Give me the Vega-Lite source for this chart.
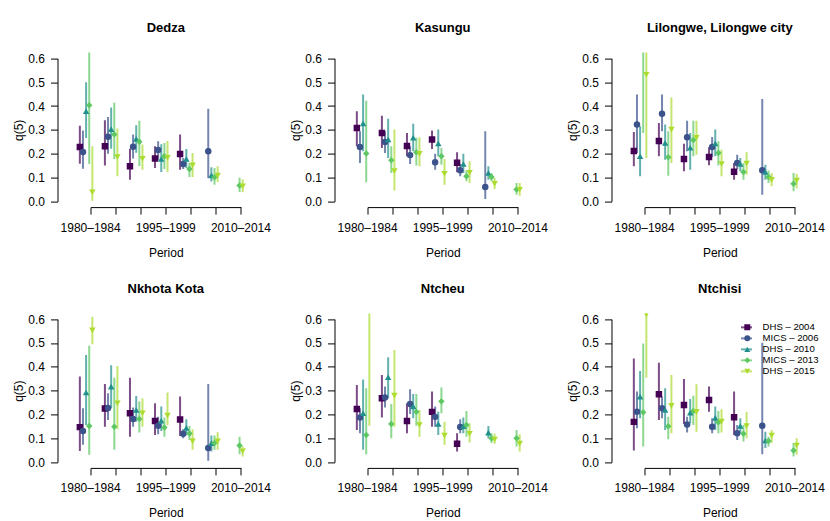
{
"$schema":"https://vega.github.io/schema/vega-lite/v6.json",
"background":"white",
"padding":{"left":11.5,"top":21.6,"right":5,"bottom":0},
"datasets":{"q":[
{"district":"Dedza","period":"1980–1984","survey":"DHS – 2004","q5":0.228,"lo":0.158,"hi":0.317},
{"district":"Dedza","period":"1980–1984","survey":"MICS – 2006","q5":0.207,"lo":0.137,"hi":0.297},
{"district":"Dedza","period":"1980–1984","survey":"DHS – 2010","q5":0.378,"lo":0.266,"hi":0.5},
{"district":"Dedza","period":"1980–1984","survey":"MICS – 2013","q5":0.403,"lo":0.157,"hi":0.7},
{"district":"Dedza","period":"1980–1984","survey":"DHS – 2015","q5":0.038,"lo":0.003,"hi":0.231},
{"district":"Dedza","period":"1985–1989","survey":"DHS – 2004","q5":0.231,"lo":0.15,"hi":0.34},
{"district":"Dedza","period":"1985–1989","survey":"MICS – 2006","q5":0.271,"lo":0.2,"hi":0.354},
{"district":"Dedza","period":"1985–1989","survey":"DHS – 2010","q5":0.303,"lo":0.221,"hi":0.394},
{"district":"Dedza","period":"1985–1989","survey":"MICS – 2013","q5":0.281,"lo":0.178,"hi":0.414},
{"district":"Dedza","period":"1985–1989","survey":"DHS – 2015","q5":0.186,"lo":0.105,"hi":0.306},
{"district":"Dedza","period":"1990–1994","survey":"DHS – 2004","q5":0.147,"lo":0.091,"hi":0.221},
{"district":"Dedza","period":"1990–1994","survey":"MICS – 2006","q5":0.229,"lo":0.18,"hi":0.281},
{"district":"Dedza","period":"1990–1994","survey":"DHS – 2010","q5":0.262,"lo":0.204,"hi":0.319},
{"district":"Dedza","period":"1990–1994","survey":"MICS – 2013","q5":0.25,"lo":0.148,"hi":0.338},
{"district":"Dedza","period":"1990–1994","survey":"DHS – 2015","q5":0.179,"lo":0.133,"hi":0.239},
{"district":"Dedza","period":"1995–1999","survey":"DHS – 2004","q5":0.18,"lo":0.14,"hi":0.231},
{"district":"Dedza","period":"1995–1999","survey":"MICS – 2006","q5":0.215,"lo":0.175,"hi":0.252},
{"district":"Dedza","period":"1995–1999","survey":"DHS – 2010","q5":0.178,"lo":0.123,"hi":0.24},
{"district":"Dedza","period":"1995–1999","survey":"MICS – 2013","q5":0.189,"lo":0.136,"hi":0.245},
{"district":"Dedza","period":"1995–1999","survey":"DHS – 2015","q5":0.183,"lo":0.123,"hi":0.253},
{"district":"Dedza","period":"2000–2004","survey":"DHS – 2004","q5":0.199,"lo":0.133,"hi":0.281},
{"district":"Dedza","period":"2000–2004","survey":"MICS – 2006","q5":0.157,"lo":0.136,"hi":0.182},
{"district":"Dedza","period":"2000–2004","survey":"DHS – 2010","q5":0.178,"lo":0.14,"hi":0.22},
{"district":"Dedza","period":"2000–2004","survey":"MICS – 2013","q5":0.136,"lo":0.102,"hi":0.161},
{"district":"Dedza","period":"2000–2004","survey":"DHS – 2015","q5":0.151,"lo":0.102,"hi":0.203},
{"district":"Dedza","period":"2005–2009","survey":"MICS – 2006","q5":0.21,"lo":0.098,"hi":0.389},
{"district":"Dedza","period":"2005–2009","survey":"DHS – 2010","q5":0.109,"lo":0.083,"hi":0.143},
{"district":"Dedza","period":"2005–2009","survey":"MICS – 2013","q5":0.101,"lo":0.07,"hi":0.14},
{"district":"Dedza","period":"2005–2009","survey":"DHS – 2015","q5":0.108,"lo":0.081,"hi":0.147},
{"district":"Dedza","period":"2010–2014","survey":"MICS – 2013","q5":0.067,"lo":0.039,"hi":0.099},
{"district":"Dedza","period":"2010–2014","survey":"DHS – 2015","q5":0.063,"lo":0.038,"hi":0.092},
{"district":"Kasungu","period":"1980–1984","survey":"DHS – 2004","q5":0.308,"lo":0.231,"hi":0.378},
{"district":"Kasungu","period":"1980–1984","survey":"MICS – 2006","q5":0.228,"lo":0.161,"hi":0.294},
{"district":"Kasungu","period":"1980–1984","survey":"DHS – 2010","q5":0.327,"lo":0.21,"hi":0.448},
{"district":"Kasungu","period":"1980–1984","survey":"MICS – 2013","q5":0.201,"lo":0.08,"hi":0.422},
{"district":"Kasungu","period":"1985–1989","survey":"DHS – 2004","q5":0.287,"lo":0.224,"hi":0.359},
{"district":"Kasungu","period":"1985–1989","survey":"MICS – 2006","q5":0.249,"lo":0.203,"hi":0.294},
{"district":"Kasungu","period":"1985–1989","survey":"DHS – 2010","q5":0.26,"lo":0.182,"hi":0.347},
{"district":"Kasungu","period":"1985–1989","survey":"MICS – 2013","q5":0.173,"lo":0.119,"hi":0.231},
{"district":"Kasungu","period":"1985–1989","survey":"DHS – 2015","q5":0.127,"lo":0.046,"hi":0.301},
{"district":"Kasungu","period":"1990–1994","survey":"DHS – 2004","q5":0.232,"lo":0.189,"hi":0.287},
{"district":"Kasungu","period":"1990–1994","survey":"MICS – 2006","q5":0.194,"lo":0.157,"hi":0.231},
{"district":"Kasungu","period":"1990–1994","survey":"DHS – 2010","q5":0.267,"lo":0.21,"hi":0.326},
{"district":"Kasungu","period":"1990–1994","survey":"MICS – 2013","q5":0.206,"lo":0.15,"hi":0.267},
{"district":"Kasungu","period":"1990–1994","survey":"DHS – 2015","q5":0.199,"lo":0.147,"hi":0.269},
{"district":"Kasungu","period":"1995–1999","survey":"DHS – 2004","q5":0.26,"lo":0.22,"hi":0.297},
{"district":"Kasungu","period":"1995–1999","survey":"MICS – 2006","q5":0.164,"lo":0.133,"hi":0.2},
{"district":"Kasungu","period":"1995–1999","survey":"DHS – 2010","q5":0.243,"lo":0.189,"hi":0.301},
{"district":"Kasungu","period":"1995–1999","survey":"MICS – 2013","q5":0.189,"lo":0.154,"hi":0.224},
{"district":"Kasungu","period":"1995–1999","survey":"DHS – 2015","q5":0.116,"lo":0.07,"hi":0.178},
{"district":"Kasungu","period":"2000–2004","survey":"DHS – 2004","q5":0.162,"lo":0.122,"hi":0.206},
{"district":"Kasungu","period":"2000–2004","survey":"MICS – 2006","q5":0.131,"lo":0.105,"hi":0.157},
{"district":"Kasungu","period":"2000–2004","survey":"DHS – 2010","q5":0.157,"lo":0.119,"hi":0.2},
{"district":"Kasungu","period":"2000–2004","survey":"MICS – 2013","q5":0.105,"lo":0.084,"hi":0.13},
{"district":"Kasungu","period":"2000–2004","survey":"DHS – 2015","q5":0.12,"lo":0.077,"hi":0.168},
{"district":"Kasungu","period":"2005–2009","survey":"MICS – 2006","q5":0.06,"lo":0.01,"hi":0.294},
{"district":"Kasungu","period":"2005–2009","survey":"DHS – 2010","q5":0.119,"lo":0.091,"hi":0.147},
{"district":"Kasungu","period":"2005–2009","survey":"MICS – 2013","q5":0.102,"lo":0.084,"hi":0.119},
{"district":"Kasungu","period":"2005–2009","survey":"DHS – 2015","q5":0.074,"lo":0.052,"hi":0.098},
{"district":"Kasungu","period":"2010–2014","survey":"MICS – 2013","q5":0.05,"lo":0.028,"hi":0.077},
{"district":"Kasungu","period":"2010–2014","survey":"DHS – 2015","q5":0.049,"lo":0.024,"hi":0.077},
{"district":"Lilongwe, Lilongwe city","period":"1980–1984","survey":"DHS – 2004","q5":0.211,"lo":0.147,"hi":0.291},
{"district":"Lilongwe, Lilongwe city","period":"1980–1984","survey":"MICS – 2006","q5":0.322,"lo":0.203,"hi":0.448},
{"district":"Lilongwe, Lilongwe city","period":"1980–1984","survey":"DHS – 2010","q5":0.189,"lo":0.105,"hi":0.315},
{"district":"Lilongwe, Lilongwe city","period":"1980–1984","survey":"MICS – 2013","q5":0.66,"lo":0.287,"hi":0.9},
{"district":"Lilongwe, Lilongwe city","period":"1980–1984","survey":"DHS – 2015","q5":0.531,"lo":0.182,"hi":0.75},
{"district":"Lilongwe, Lilongwe city","period":"1985–1989","survey":"DHS – 2004","q5":0.253,"lo":0.189,"hi":0.329},
{"district":"Lilongwe, Lilongwe city","period":"1985–1989","survey":"MICS – 2006","q5":0.368,"lo":0.294,"hi":0.448},
{"district":"Lilongwe, Lilongwe city","period":"1985–1989","survey":"DHS – 2010","q5":0.245,"lo":0.175,"hi":0.322},
{"district":"Lilongwe, Lilongwe city","period":"1985–1989","survey":"MICS – 2013","q5":0.185,"lo":0.108,"hi":0.294},
{"district":"Lilongwe, Lilongwe city","period":"1985–1989","survey":"DHS – 2015","q5":0.301,"lo":0.161,"hi":0.436},
{"district":"Lilongwe, Lilongwe city","period":"1990–1994","survey":"DHS – 2004","q5":0.178,"lo":0.126,"hi":0.242},
{"district":"Lilongwe, Lilongwe city","period":"1990–1994","survey":"MICS – 2006","q5":0.269,"lo":0.21,"hi":0.338},
{"district":"Lilongwe, Lilongwe city","period":"1990–1994","survey":"DHS – 2010","q5":0.225,"lo":0.133,"hi":0.287},
{"district":"Lilongwe, Lilongwe city","period":"1990–1994","survey":"MICS – 2013","q5":0.257,"lo":0.189,"hi":0.338},
{"district":"Lilongwe, Lilongwe city","period":"1990–1994","survey":"DHS – 2015","q5":0.267,"lo":0.196,"hi":0.338},
{"district":"Lilongwe, Lilongwe city","period":"1995–1999","survey":"DHS – 2004","q5":0.186,"lo":0.151,"hi":0.227},
{"district":"Lilongwe, Lilongwe city","period":"1995–1999","survey":"MICS – 2006","q5":0.228,"lo":0.186,"hi":0.27},
{"district":"Lilongwe, Lilongwe city","period":"1995–1999","survey":"DHS – 2010","q5":0.243,"lo":0.189,"hi":0.301},
{"district":"Lilongwe, Lilongwe city","period":"1995–1999","survey":"MICS – 2013","q5":0.203,"lo":0.15,"hi":0.252},
{"district":"Lilongwe, Lilongwe city","period":"1995–1999","survey":"DHS – 2015","q5":0.157,"lo":0.105,"hi":0.217},
{"district":"Lilongwe, Lilongwe city","period":"2000–2004","survey":"DHS – 2004","q5":0.124,"lo":0.091,"hi":0.161},
{"district":"Lilongwe, Lilongwe city","period":"2000–2004","survey":"MICS – 2006","q5":0.161,"lo":0.136,"hi":0.196},
{"district":"Lilongwe, Lilongwe city","period":"2000–2004","survey":"DHS – 2010","q5":0.157,"lo":0.126,"hi":0.182},
{"district":"Lilongwe, Lilongwe city","period":"2000–2004","survey":"MICS – 2013","q5":0.123,"lo":0.091,"hi":0.161},
{"district":"Lilongwe, Lilongwe city","period":"2000–2004","survey":"DHS – 2015","q5":0.159,"lo":0.112,"hi":0.206},
{"district":"Lilongwe, Lilongwe city","period":"2005–2009","survey":"MICS – 2006","q5":0.131,"lo":0.028,"hi":0.429},
{"district":"Lilongwe, Lilongwe city","period":"2005–2009","survey":"DHS – 2010","q5":0.123,"lo":0.091,"hi":0.154},
{"district":"Lilongwe, Lilongwe city","period":"2005–2009","survey":"MICS – 2013","q5":0.102,"lo":0.077,"hi":0.13},
{"district":"Lilongwe, Lilongwe city","period":"2005–2009","survey":"DHS – 2015","q5":0.09,"lo":0.063,"hi":0.119},
{"district":"Lilongwe, Lilongwe city","period":"2010–2014","survey":"MICS – 2013","q5":0.074,"lo":0.042,"hi":0.119},
{"district":"Lilongwe, Lilongwe city","period":"2010–2014","survey":"DHS – 2015","q5":0.087,"lo":0.055,"hi":0.115},
{"district":"Nkhota Kota","period":"1980–1984","survey":"DHS – 2004","q5":0.147,"lo":0.047,"hi":0.359},
{"district":"Nkhota Kota","period":"1980–1984","survey":"MICS – 2006","q5":0.131,"lo":0.073,"hi":0.226},
{"district":"Nkhota Kota","period":"1980–1984","survey":"DHS – 2010","q5":0.292,"lo":0.156,"hi":0.449},
{"district":"Nkhota Kota","period":"1980–1984","survey":"MICS – 2013","q5":0.152,"lo":0.031,"hi":0.488},
{"district":"Nkhota Kota","period":"1980–1984","survey":"DHS – 2015","q5":0.553,"lo":0.495,"hi":0.61},
{"district":"Nkhota Kota","period":"1985–1989","survey":"DHS – 2004","q5":0.225,"lo":0.149,"hi":0.328},
{"district":"Nkhota Kota","period":"1985–1989","survey":"MICS – 2006","q5":0.227,"lo":0.177,"hi":0.289},
{"district":"Nkhota Kota","period":"1985–1989","survey":"DHS – 2010","q5":0.317,"lo":0.226,"hi":0.407},
{"district":"Nkhota Kota","period":"1985–1989","survey":"MICS – 2013","q5":0.149,"lo":0.052,"hi":0.354},
{"district":"Nkhota Kota","period":"1985–1989","survey":"DHS – 2015","q5":0.247,"lo":0.138,"hi":0.403},
{"district":"Nkhota Kota","period":"1990–1994","survey":"DHS – 2004","q5":0.205,"lo":0.107,"hi":0.354},
{"district":"Nkhota Kota","period":"1990–1994","survey":"MICS – 2006","q5":0.181,"lo":0.149,"hi":0.229},
{"district":"Nkhota Kota","period":"1990–1994","survey":"DHS – 2010","q5":0.219,"lo":0.17,"hi":0.278},
{"district":"Nkhota Kota","period":"1990–1994","survey":"MICS – 2013","q5":0.181,"lo":0.124,"hi":0.254},
{"district":"Nkhota Kota","period":"1990–1994","survey":"DHS – 2015","q5":0.205,"lo":0.149,"hi":0.268},
{"district":"Nkhota Kota","period":"1995–1999","survey":"DHS – 2004","q5":0.173,"lo":0.114,"hi":0.247},
{"district":"Nkhota Kota","period":"1995–1999","survey":"MICS – 2006","q5":0.153,"lo":0.117,"hi":0.191},
{"district":"Nkhota Kota","period":"1995–1999","survey":"DHS – 2010","q5":0.174,"lo":0.131,"hi":0.233},
{"district":"Nkhota Kota","period":"1995–1999","survey":"MICS – 2013","q5":0.145,"lo":0.107,"hi":0.187},
{"district":"Nkhota Kota","period":"1995–1999","survey":"DHS – 2015","q5":0.195,"lo":0.156,"hi":0.292},
{"district":"Nkhota Kota","period":"2000–2004","survey":"DHS – 2004","q5":0.179,"lo":0.11,"hi":0.275},
{"district":"Nkhota Kota","period":"2000–2004","survey":"MICS – 2006","q5":0.119,"lo":0.1,"hi":0.138},
{"district":"Nkhota Kota","period":"2000–2004","survey":"DHS – 2010","q5":0.144,"lo":0.114,"hi":0.18},
{"district":"Nkhota Kota","period":"2000–2004","survey":"MICS – 2013","q5":0.12,"lo":0.093,"hi":0.152},
{"district":"Nkhota Kota","period":"2000–2004","survey":"DHS – 2015","q5":0.088,"lo":0.052,"hi":0.138},
{"district":"Nkhota Kota","period":"2005–2009","survey":"MICS – 2006","q5":0.059,"lo":0.006,"hi":0.328},
{"district":"Nkhota Kota","period":"2005–2009","survey":"DHS – 2010","q5":0.08,"lo":0.045,"hi":0.112},
{"district":"Nkhota Kota","period":"2005–2009","survey":"MICS – 2013","q5":0.08,"lo":0.052,"hi":0.112},
{"district":"Nkhota Kota","period":"2005–2009","survey":"DHS – 2015","q5":0.087,"lo":0.052,"hi":0.126},
{"district":"Nkhota Kota","period":"2010–2014","survey":"MICS – 2013","q5":0.07,"lo":0.033,"hi":0.107},
{"district":"Nkhota Kota","period":"2010–2014","survey":"DHS – 2015","q5":0.046,"lo":0.024,"hi":0.066},
{"district":"Ntcheu","period":"1980–1984","survey":"DHS – 2004","q5":0.223,"lo":0.135,"hi":0.324},
{"district":"Ntcheu","period":"1980–1984","survey":"MICS – 2006","q5":0.187,"lo":0.121,"hi":0.226},
{"district":"Ntcheu","period":"1980–1984","survey":"DHS – 2010","q5":0.205,"lo":0.052,"hi":0.347},
{"district":"Ntcheu","period":"1980–1984","survey":"MICS – 2013","q5":0.114,"lo":0.033,"hi":0.31},
{"district":"Ntcheu","period":"1980–1984","survey":"DHS – 2015","q5":0.66,"lo":0.153,"hi":0.9},
{"district":"Ntcheu","period":"1985–1989","survey":"DHS – 2004","q5":0.268,"lo":0.187,"hi":0.366},
{"district":"Ntcheu","period":"1985–1989","survey":"MICS – 2006","q5":0.271,"lo":0.229,"hi":0.317},
{"district":"Ntcheu","period":"1985–1989","survey":"DHS – 2010","q5":0.356,"lo":0.268,"hi":0.44},
{"district":"Ntcheu","period":"1985–1989","survey":"MICS – 2013","q5":0.16,"lo":0.1,"hi":0.244},
{"district":"Ntcheu","period":"1985–1989","survey":"DHS – 2015","q5":0.279,"lo":0.149,"hi":0.47},
{"district":"Ntcheu","period":"1990–1994","survey":"DHS – 2004","q5":0.173,"lo":0.121,"hi":0.247},
{"district":"Ntcheu","period":"1990–1994","survey":"MICS – 2006","q5":0.244,"lo":0.202,"hi":0.306},
{"district":"Ntcheu","period":"1990–1994","survey":"DHS – 2010","q5":0.234,"lo":0.184,"hi":0.286},
{"district":"Ntcheu","period":"1990–1994","survey":"MICS – 2013","q5":0.211,"lo":0.153,"hi":0.286},
{"district":"Ntcheu","period":"1990–1994","survey":"DHS – 2015","q5":0.156,"lo":0.107,"hi":0.219},
{"district":"Ntcheu","period":"1995–1999","survey":"DHS – 2004","q5":0.211,"lo":0.149,"hi":0.296},
{"district":"Ntcheu","period":"1995–1999","survey":"MICS – 2006","q5":0.19,"lo":0.149,"hi":0.233},
{"district":"Ntcheu","period":"1995–1999","survey":"DHS – 2010","q5":0.16,"lo":0.114,"hi":0.212},
{"district":"Ntcheu","period":"1995–1999","survey":"MICS – 2013","q5":0.255,"lo":0.205,"hi":0.313},
{"district":"Ntcheu","period":"1995–1999","survey":"DHS – 2015","q5":0.112,"lo":0.073,"hi":0.17},
{"district":"Ntcheu","period":"2000–2004","survey":"DHS – 2004","q5":0.077,"lo":0.045,"hi":0.121},
{"district":"Ntcheu","period":"2000–2004","survey":"MICS – 2006","q5":0.148,"lo":0.121,"hi":0.18},
{"district":"Ntcheu","period":"2000–2004","survey":"DHS – 2010","q5":0.151,"lo":0.121,"hi":0.187},
{"district":"Ntcheu","period":"2000–2004","survey":"MICS – 2013","q5":0.156,"lo":0.107,"hi":0.215},
{"district":"Ntcheu","period":"2000–2004","survey":"DHS – 2015","q5":0.119,"lo":0.082,"hi":0.163},
{"district":"Ntcheu","period":"2005–2009","survey":"DHS – 2010","q5":0.124,"lo":0.1,"hi":0.152},
{"district":"Ntcheu","period":"2005–2009","survey":"MICS – 2013","q5":0.1,"lo":0.08,"hi":0.121},
{"district":"Ntcheu","period":"2005–2009","survey":"DHS – 2015","q5":0.095,"lo":0.077,"hi":0.119},
{"district":"Ntcheu","period":"2010–2014","survey":"MICS – 2013","q5":0.1,"lo":0.066,"hi":0.135},
{"district":"Ntcheu","period":"2010–2014","survey":"DHS – 2015","q5":0.078,"lo":0.045,"hi":0.117},
{"district":"Ntchisi","period":"1980–1984","survey":"DHS – 2004","q5":0.169,"lo":0.049,"hi":0.435},
{"district":"Ntchisi","period":"1980–1984","survey":"MICS – 2006","q5":0.212,"lo":0.142,"hi":0.296},
{"district":"Ntchisi","period":"1980–1984","survey":"DHS – 2010","q5":0.275,"lo":0.184,"hi":0.382},
{"district":"Ntchisi","period":"1980–1984","survey":"MICS – 2013","q5":0.209,"lo":0.066,"hi":0.498},
{"district":"Ntchisi","period":"1980–1984","survey":"DHS – 2015","q5":0.62,"lo":0.354,"hi":0.7},
{"district":"Ntchisi","period":"1985–1989","survey":"DHS – 2004","q5":0.285,"lo":0.177,"hi":0.417},
{"district":"Ntchisi","period":"1985–1989","survey":"MICS – 2006","q5":0.226,"lo":0.184,"hi":0.275},
{"district":"Ntchisi","period":"1985–1989","survey":"DHS – 2010","q5":0.219,"lo":0.135,"hi":0.31},
{"district":"Ntchisi","period":"1985–1989","survey":"MICS – 2013","q5":0.151,"lo":0.096,"hi":0.191},
{"district":"Ntchisi","period":"1985–1989","survey":"DHS – 2015","q5":0.236,"lo":0.121,"hi":0.366},
{"district":"Ntchisi","period":"1990–1994","survey":"DHS – 2004","q5":0.24,"lo":0.16,"hi":0.349},
{"district":"Ntchisi","period":"1990–1994","survey":"MICS – 2006","q5":0.158,"lo":0.124,"hi":0.191},
{"district":"Ntchisi","period":"1990–1994","survey":"DHS – 2010","q5":0.208,"lo":0.163,"hi":0.265},
{"district":"Ntchisi","period":"1990–1994","survey":"MICS – 2013","q5":0.215,"lo":0.156,"hi":0.279},
{"district":"Ntchisi","period":"1990–1994","survey":"DHS – 2015","q5":0.211,"lo":0.128,"hi":0.327},
{"district":"Ntchisi","period":"1995–1999","survey":"DHS – 2004","q5":0.261,"lo":0.212,"hi":0.317},
{"district":"Ntchisi","period":"1995–1999","survey":"MICS – 2006","q5":0.149,"lo":0.121,"hi":0.184},
{"district":"Ntchisi","period":"1995–1999","survey":"DHS – 2010","q5":0.186,"lo":0.135,"hi":0.233},
{"district":"Ntchisi","period":"1995–1999","survey":"MICS – 2013","q5":0.167,"lo":0.121,"hi":0.215},
{"district":"Ntchisi","period":"1995–1999","survey":"DHS – 2015","q5":0.17,"lo":0.124,"hi":0.222},
{"district":"Ntchisi","period":"2000–2004","survey":"DHS – 2004","q5":0.188,"lo":0.114,"hi":0.296},
{"district":"Ntchisi","period":"2000–2004","survey":"MICS – 2006","q5":0.121,"lo":0.093,"hi":0.156},
{"district":"Ntchisi","period":"2000–2004","survey":"DHS – 2010","q5":0.152,"lo":0.121,"hi":0.184},
{"district":"Ntchisi","period":"2000–2004","survey":"MICS – 2013","q5":0.119,"lo":0.087,"hi":0.156},
{"district":"Ntchisi","period":"2000–2004","survey":"DHS – 2015","q5":0.152,"lo":0.1,"hi":0.212},
{"district":"Ntchisi","period":"2005–2009","survey":"MICS – 2006","q5":0.153,"lo":0.033,"hi":0.501},
{"district":"Ntchisi","period":"2005–2009","survey":"DHS – 2010","q5":0.091,"lo":0.059,"hi":0.128},
{"district":"Ntchisi","period":"2005–2009","survey":"MICS – 2013","q5":0.089,"lo":0.066,"hi":0.107},
{"district":"Ntchisi","period":"2005–2009","survey":"DHS – 2015","q5":0.112,"lo":0.08,"hi":0.135},
{"district":"Ntchisi","period":"2010–2014","survey":"MICS – 2013","q5":0.049,"lo":0.024,"hi":0.08},
{"district":"Ntchisi","period":"2010–2014","survey":"DHS – 2015","q5":0.07,"lo":0.031,"hi":0.1}
]},
"data":{"name":"q"},
"columns":3,
"spacing":{"row":105.8,"column":60},
"bounds":"flush",
"resolve":{"scale":{"stroke":"independent"},"legend":{"stroke":"independent","fill":"independent","shape":"independent"}},
"concat":[
{"title":{"text":"Dedza"},"width":216.5,"height":154.5,"transform":[{"filter":{"field":"district","equal":"Dedza"}}],
"encoding":{"x":{"field":"period","type":"ordinal","scale":{"type":"band","domain":["1980–1984","1985–1989","1990–1994","1995–1999","2000–2004","2005–2009","2010–2014"],"paddingInner":0,"paddingOuter":0.82},"axis":{"title":"Period","labelAngle":0,"labelOverlap":false,"labelExpr":"indexof(['1980–1984','1995–1999','2010–2014'], datum.value) >= 0 ? datum.value : ''","labelPadding":8,"titlePadding":14,"domainDash":[0,33.08,150.35,500]}},
"xOffset":{"field":"survey","type":"nominal","scale":{"type":"point","domain":["DHS – 2004","MICS – 2006","DHS – 2010","MICS – 2013","DHS – 2015"],"padding":0,"range":[1.8,14.3]}}},
"layer":[
{"mark":{"type":"rule","strokeWidth":2,"opacity":0.7,"clip":true},"encoding":{"y":{"field":"lo","type":"quantitative","scale":{"domain":[-0.024,0.624],"nice":false,"zero":false},"axis":{"title":"q(5)","values":[0,0.1,0.2,0.3,0.4,0.5,0.6],"format":".1f","labelPadding":6,"titlePadding":2.5,"domainDash":[0,5.72,143.06,500]}},"y2":{"field":"hi"},"stroke":{"field":"survey","type":"nominal","sort":["DHS – 2004","MICS – 2006","DHS – 2010","MICS – 2013","DHS – 2015"],"scale":{"range":["#440154","#3B528B","#21908C","#5DC863","#ADDC30"]},"legend":null}}},
{"mark":{"type":"point","filled":true,"size":42,"opacity":1,"strokeWidth":0,"clip":true},"encoding":{"y":{"field":"q5","type":"quantitative","scale":{"domain":[-0.024,0.624],"nice":false,"zero":false},"axis":{"title":"q(5)","values":[0,0.1,0.2,0.3,0.4,0.5,0.6],"format":".1f","labelPadding":6,"titlePadding":2.5,"domainDash":[0,5.72,143.06,500]}},"fill":{"field":"survey","type":"nominal","scale":{"domain":["DHS – 2004","MICS – 2006","DHS – 2010","MICS – 2013","DHS – 2015"],"range":["#440154","#3B528B","#21908C","#5DC863","#ADDC30"]},"legend":null},"shape":{"field":"survey","type":"nominal","scale":{"domain":["DHS – 2004","MICS – 2006","DHS – 2010","MICS – 2013","DHS – 2015"],"range":["square","circle","triangle-up","diamond","triangle-down"]},"legend":null}}}
]},
{"title":{"text":"Kasungu"},"width":216.5,"height":154.5,"transform":[{"filter":{"field":"district","equal":"Kasungu"}}],
"encoding":{"x":{"field":"period","type":"ordinal","scale":{"type":"band","domain":["1980–1984","1985–1989","1990–1994","1995–1999","2000–2004","2005–2009","2010–2014"],"paddingInner":0,"paddingOuter":0.82},"axis":{"title":"Period","labelAngle":0,"labelOverlap":false,"labelExpr":"indexof(['1980–1984','1995–1999','2010–2014'], datum.value) >= 0 ? datum.value : ''","labelPadding":8,"titlePadding":14,"domainDash":[0,33.08,150.35,500]}},
"xOffset":{"field":"survey","type":"nominal","scale":{"type":"point","domain":["DHS – 2004","MICS – 2006","DHS – 2010","MICS – 2013","DHS – 2015"],"padding":0,"range":[1.8,14.3]}}},
"layer":[
{"mark":{"type":"rule","strokeWidth":2,"opacity":0.7,"clip":true},"encoding":{"y":{"field":"lo","type":"quantitative","scale":{"domain":[-0.024,0.624],"nice":false,"zero":false},"axis":{"title":"q(5)","values":[0,0.1,0.2,0.3,0.4,0.5,0.6],"format":".1f","labelPadding":6,"titlePadding":2.5,"domainDash":[0,5.72,143.06,500]}},"y2":{"field":"hi"},"stroke":{"field":"survey","type":"nominal","sort":["DHS – 2004","MICS – 2006","DHS – 2010","MICS – 2013","DHS – 2015"],"scale":{"range":["#440154","#3B528B","#21908C","#5DC863","#ADDC30"]},"legend":null}}},
{"mark":{"type":"point","filled":true,"size":42,"opacity":1,"strokeWidth":0,"clip":true},"encoding":{"y":{"field":"q5","type":"quantitative","scale":{"domain":[-0.024,0.624],"nice":false,"zero":false},"axis":{"title":"q(5)","values":[0,0.1,0.2,0.3,0.4,0.5,0.6],"format":".1f","labelPadding":6,"titlePadding":2.5,"domainDash":[0,5.72,143.06,500]}},"fill":{"field":"survey","type":"nominal","scale":{"domain":["DHS – 2004","MICS – 2006","DHS – 2010","MICS – 2013","DHS – 2015"],"range":["#440154","#3B528B","#21908C","#5DC863","#ADDC30"]},"legend":null},"shape":{"field":"survey","type":"nominal","scale":{"domain":["DHS – 2004","MICS – 2006","DHS – 2010","MICS – 2013","DHS – 2015"],"range":["square","circle","triangle-up","diamond","triangle-down"]},"legend":null}}}
]},
{"title":{"text":"Lilongwe, Lilongwe city"},"width":216.5,"height":154.5,"transform":[{"filter":{"field":"district","equal":"Lilongwe, Lilongwe city"}}],
"encoding":{"x":{"field":"period","type":"ordinal","scale":{"type":"band","domain":["1980–1984","1985–1989","1990–1994","1995–1999","2000–2004","2005–2009","2010–2014"],"paddingInner":0,"paddingOuter":0.82},"axis":{"title":"Period","labelAngle":0,"labelOverlap":false,"labelExpr":"indexof(['1980–1984','1995–1999','2010–2014'], datum.value) >= 0 ? datum.value : ''","labelPadding":8,"titlePadding":14,"domainDash":[0,33.08,150.35,500]}},
"xOffset":{"field":"survey","type":"nominal","scale":{"type":"point","domain":["DHS – 2004","MICS – 2006","DHS – 2010","MICS – 2013","DHS – 2015"],"padding":0,"range":[1.8,14.3]}}},
"layer":[
{"mark":{"type":"rule","strokeWidth":2,"opacity":0.7,"clip":true},"encoding":{"y":{"field":"lo","type":"quantitative","scale":{"domain":[-0.024,0.624],"nice":false,"zero":false},"axis":{"title":"q(5)","values":[0,0.1,0.2,0.3,0.4,0.5,0.6],"format":".1f","labelPadding":6,"titlePadding":2.5,"domainDash":[0,5.72,143.06,500]}},"y2":{"field":"hi"},"stroke":{"field":"survey","type":"nominal","sort":["DHS – 2004","MICS – 2006","DHS – 2010","MICS – 2013","DHS – 2015"],"scale":{"range":["#440154","#3B528B","#21908C","#5DC863","#ADDC30"]},"legend":null}}},
{"mark":{"type":"point","filled":true,"size":42,"opacity":1,"strokeWidth":0,"clip":true},"encoding":{"y":{"field":"q5","type":"quantitative","scale":{"domain":[-0.024,0.624],"nice":false,"zero":false},"axis":{"title":"q(5)","values":[0,0.1,0.2,0.3,0.4,0.5,0.6],"format":".1f","labelPadding":6,"titlePadding":2.5,"domainDash":[0,5.72,143.06,500]}},"fill":{"field":"survey","type":"nominal","scale":{"domain":["DHS – 2004","MICS – 2006","DHS – 2010","MICS – 2013","DHS – 2015"],"range":["#440154","#3B528B","#21908C","#5DC863","#ADDC30"]},"legend":null},"shape":{"field":"survey","type":"nominal","scale":{"domain":["DHS – 2004","MICS – 2006","DHS – 2010","MICS – 2013","DHS – 2015"],"range":["square","circle","triangle-up","diamond","triangle-down"]},"legend":null}}}
]},
{"title":{"text":"Nkhota Kota"},"width":216.5,"height":154.5,"transform":[{"filter":{"field":"district","equal":"Nkhota Kota"}}],
"encoding":{"x":{"field":"period","type":"ordinal","scale":{"type":"band","domain":["1980–1984","1985–1989","1990–1994","1995–1999","2000–2004","2005–2009","2010–2014"],"paddingInner":0,"paddingOuter":0.82},"axis":{"title":"Period","labelAngle":0,"labelOverlap":false,"labelExpr":"indexof(['1980–1984','1995–1999','2010–2014'], datum.value) >= 0 ? datum.value : ''","labelPadding":8,"titlePadding":14,"domainDash":[0,33.08,150.35,500]}},
"xOffset":{"field":"survey","type":"nominal","scale":{"type":"point","domain":["DHS – 2004","MICS – 2006","DHS – 2010","MICS – 2013","DHS – 2015"],"padding":0,"range":[1.8,14.3]}}},
"layer":[
{"mark":{"type":"rule","strokeWidth":2,"opacity":0.7,"clip":true},"encoding":{"y":{"field":"lo","type":"quantitative","scale":{"domain":[-0.024,0.624],"nice":false,"zero":false},"axis":{"title":"q(5)","values":[0,0.1,0.2,0.3,0.4,0.5,0.6],"format":".1f","labelPadding":6,"titlePadding":2.5,"domainDash":[0,5.72,143.06,500]}},"y2":{"field":"hi"},"stroke":{"field":"survey","type":"nominal","sort":["DHS – 2004","MICS – 2006","DHS – 2010","MICS – 2013","DHS – 2015"],"scale":{"range":["#440154","#3B528B","#21908C","#5DC863","#ADDC30"]},"legend":null}}},
{"mark":{"type":"point","filled":true,"size":42,"opacity":1,"strokeWidth":0,"clip":true},"encoding":{"y":{"field":"q5","type":"quantitative","scale":{"domain":[-0.024,0.624],"nice":false,"zero":false},"axis":{"title":"q(5)","values":[0,0.1,0.2,0.3,0.4,0.5,0.6],"format":".1f","labelPadding":6,"titlePadding":2.5,"domainDash":[0,5.72,143.06,500]}},"fill":{"field":"survey","type":"nominal","scale":{"domain":["DHS – 2004","MICS – 2006","DHS – 2010","MICS – 2013","DHS – 2015"],"range":["#440154","#3B528B","#21908C","#5DC863","#ADDC30"]},"legend":null},"shape":{"field":"survey","type":"nominal","scale":{"domain":["DHS – 2004","MICS – 2006","DHS – 2010","MICS – 2013","DHS – 2015"],"range":["square","circle","triangle-up","diamond","triangle-down"]},"legend":null}}}
]},
{"title":{"text":"Ntcheu"},"width":216.5,"height":154.5,"transform":[{"filter":{"field":"district","equal":"Ntcheu"}}],
"encoding":{"x":{"field":"period","type":"ordinal","scale":{"type":"band","domain":["1980–1984","1985–1989","1990–1994","1995–1999","2000–2004","2005–2009","2010–2014"],"paddingInner":0,"paddingOuter":0.82},"axis":{"title":"Period","labelAngle":0,"labelOverlap":false,"labelExpr":"indexof(['1980–1984','1995–1999','2010–2014'], datum.value) >= 0 ? datum.value : ''","labelPadding":8,"titlePadding":14,"domainDash":[0,33.08,150.35,500]}},
"xOffset":{"field":"survey","type":"nominal","scale":{"type":"point","domain":["DHS – 2004","MICS – 2006","DHS – 2010","MICS – 2013","DHS – 2015"],"padding":0,"range":[1.8,14.3]}}},
"layer":[
{"mark":{"type":"rule","strokeWidth":2,"opacity":0.7,"clip":true},"encoding":{"y":{"field":"lo","type":"quantitative","scale":{"domain":[-0.024,0.624],"nice":false,"zero":false},"axis":{"title":"q(5)","values":[0,0.1,0.2,0.3,0.4,0.5,0.6],"format":".1f","labelPadding":6,"titlePadding":2.5,"domainDash":[0,5.72,143.06,500]}},"y2":{"field":"hi"},"stroke":{"field":"survey","type":"nominal","sort":["DHS – 2004","MICS – 2006","DHS – 2010","MICS – 2013","DHS – 2015"],"scale":{"range":["#440154","#3B528B","#21908C","#5DC863","#ADDC30"]},"legend":null}}},
{"mark":{"type":"point","filled":true,"size":42,"opacity":1,"strokeWidth":0,"clip":true},"encoding":{"y":{"field":"q5","type":"quantitative","scale":{"domain":[-0.024,0.624],"nice":false,"zero":false},"axis":{"title":"q(5)","values":[0,0.1,0.2,0.3,0.4,0.5,0.6],"format":".1f","labelPadding":6,"titlePadding":2.5,"domainDash":[0,5.72,143.06,500]}},"fill":{"field":"survey","type":"nominal","scale":{"domain":["DHS – 2004","MICS – 2006","DHS – 2010","MICS – 2013","DHS – 2015"],"range":["#440154","#3B528B","#21908C","#5DC863","#ADDC30"]},"legend":null},"shape":{"field":"survey","type":"nominal","scale":{"domain":["DHS – 2004","MICS – 2006","DHS – 2010","MICS – 2013","DHS – 2015"],"range":["square","circle","triangle-up","diamond","triangle-down"]},"legend":null}}}
]},
{"title":{"text":"Ntchisi"},"width":216.5,"height":154.5,"transform":[{"filter":{"field":"district","equal":"Ntchisi"}}],
"encoding":{"x":{"field":"period","type":"ordinal","scale":{"type":"band","domain":["1980–1984","1985–1989","1990–1994","1995–1999","2000–2004","2005–2009","2010–2014"],"paddingInner":0,"paddingOuter":0.82},"axis":{"title":"Period","labelAngle":0,"labelOverlap":false,"labelExpr":"indexof(['1980–1984','1995–1999','2010–2014'], datum.value) >= 0 ? datum.value : ''","labelPadding":8,"titlePadding":14,"domainDash":[0,33.08,150.35,500]}},
"xOffset":{"field":"survey","type":"nominal","scale":{"type":"point","domain":["DHS – 2004","MICS – 2006","DHS – 2010","MICS – 2013","DHS – 2015"],"padding":0,"range":[1.8,14.3]}}},
"layer":[
{"mark":{"type":"rule","strokeWidth":2,"opacity":0.7,"clip":true},"encoding":{"y":{"field":"lo","type":"quantitative","scale":{"domain":[-0.024,0.624],"nice":false,"zero":false},"axis":{"title":"q(5)","values":[0,0.1,0.2,0.3,0.4,0.5,0.6],"format":".1f","labelPadding":6,"titlePadding":2.5,"domainDash":[0,5.72,143.06,500]}},"y2":{"field":"hi"},"stroke":{"field":"survey","type":"nominal","sort":["DHS – 2004","MICS – 2006","DHS – 2010","MICS – 2013","DHS – 2015"],"scale":{"range":["#440154","#3B528B","#21908C","#5DC863","#ADDC30"]},"legend":{"orient":"none","legendX":128.5,"legendY":8.8,"title":null,"symbolType":"stroke","symbolSize":121,"symbolStrokeWidth":2,"symbolOpacity":0.7,"labelFontSize":9.6,"labelOpacity":0,"labelExpr":"''","clipHeight":10.35,"rowPadding":0,"padding":0}}}},
{"mark":{"type":"point","filled":true,"size":42,"opacity":1,"strokeWidth":0,"clip":true},"encoding":{"y":{"field":"q5","type":"quantitative","scale":{"domain":[-0.024,0.624],"nice":false,"zero":false},"axis":{"title":"q(5)","values":[0,0.1,0.2,0.3,0.4,0.5,0.6],"format":".1f","labelPadding":6,"titlePadding":2.5,"domainDash":[0,5.72,143.06,500]}},"fill":{"field":"survey","type":"nominal","scale":{"domain":["DHS – 2004","MICS – 2006","DHS – 2010","MICS – 2013","DHS – 2015"],"range":["#440154","#3B528B","#21908C","#5DC863","#ADDC30"]},"legend":{"orient":"none","legendX":131,"legendY":8.8,"title":null,"symbolSize":36,"symbolStrokeWidth":0,"labelFontSize":9.6,"labelOffset":10.5,"clipHeight":10.35,"rowPadding":0,"padding":0}},"shape":{"field":"survey","type":"nominal","scale":{"domain":["DHS – 2004","MICS – 2006","DHS – 2010","MICS – 2013","DHS – 2015"],"range":["square","circle","triangle-up","diamond","triangle-down"]},"legend":{"orient":"none","legendX":131,"legendY":8.8,"title":null,"symbolSize":36,"symbolStrokeWidth":0,"labelFontSize":9.6,"labelOffset":10.5,"clipHeight":10.35,"rowPadding":0,"padding":0}}}}
]}
],
"config":{
"font":"Liberation Sans",
"view":{"stroke":null},
"axis":{"labelFont":"Liberation Sans","labelFontSize":12,"labelColor":"#000","titleFont":"Liberation Sans","titleFontSize":12,"titleFontWeight":"normal","titleColor":"#000","domainColor":"#000","tickColor":"#000","tickSize":7,"grid":false},
"title":{"font":"Liberation Sans","fontSize":13,"fontWeight":"bold","color":"#000","anchor":"middle","frame":"group","baseline":"alphabetic","offset":17},
"legend":{"labelFont":"Liberation Sans","labelColor":"#000"}
}
}
